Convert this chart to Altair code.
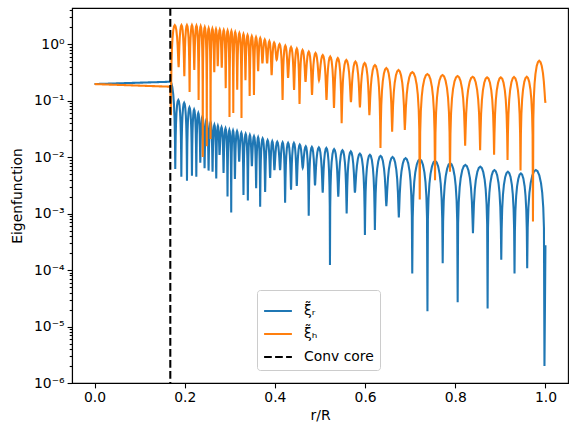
import numpy as np
import pandas as pd
import altair as alt

# ---------------- data (x = r/R, values as log10) ----------------
core_x = 0.168

blue_core_x = [0.0, 0.168]
blue_core_log = [-0.708, -0.667]
orange_core_x = [0.0, 0.168]
orange_core_log = [-0.708, -0.755]

blue_trough_x = [0.179, 0.1925, 0.205, 0.216, 0.2257, 0.2345, 0.244, 0.2529, 0.2617, 0.2699,
                 0.2772, 0.2861, 0.2949, 0.3031, 0.3113, 0.3208, 0.3303, 0.34, 0.3489, 0.3584,
                 0.3673, 0.3783, 0.3894, 0.3989, 0.4115, 0.4226, 0.4358, 0.4485, 0.4617, 0.475,
                 0.4889, 0.506, 0.5221, 0.5405, 0.5591, 0.5774, 0.5996, 0.6217, 0.6471, 0.6748,
                 0.7046, 0.7383, 0.7721, 0.8053, 0.8392, 0.8717, 0.902, 0.9314, 0.9595, 0.9978]
blue_trough_log = [-2.21, -2.35, -2.42, -2.33, -2.35, -2.10, -2.20, -2.24, -2.26, -2.38,
                   -1.96, -2.28, -2.70, -2.98, -2.39, -2.08, -2.67, -2.77, -2.16, -2.55,
                   -2.88, -2.62, -2.37, -2.23, -2.23, -2.81, -2.58, -2.51, -2.19, -3.04,
                   -2.50, -2.63, -3.91, -2.70, -3.00, -2.63, -3.38, -3.29, -2.87, -3.07,
                   -4.06, -4.73, -3.88, -4.57, -3.35, -4.68, -3.82, -4.06, -3.97, -5.70]
blue_peak_log = [-0.99, -1.04, -1.12, -1.16, -1.22, -1.28, -1.33, -1.38, -1.43, -1.45,
                 -1.47, -1.49, -1.52, -1.53, -1.54, -1.57, -1.59, -1.61, -1.63, -1.65,
                 -1.67, -1.70, -1.72, -1.73, -1.74, -1.75, -1.75, -1.78, -1.81, -1.82,
                 -1.83, -1.84, -1.86, -1.88, -1.90, -1.94, -1.96, -1.98, -2.00, -2.02,
                 -2.04, -2.07, -2.11, -2.14, -2.17, -2.23, -2.26, -2.29, -2.23]
blue_end_x, blue_end_log = 1.0, -3.56

orange_trough_x = [0.1695,
                   0.1865, 0.1991, 0.2108, 0.2212, 0.2308, 0.2400, 0.2489, 0.2573, 0.2655, 0.2732,
                   0.2821, 0.2909, 0.2993, 0.3077, 0.3164, 0.3259, 0.3347, 0.3440, 0.3535, 0.3628,
                   0.3723, 0.3827, 0.3927, 0.4038, 0.4170, 0.4292, 0.4425, 0.4546, 0.4679, 0.4823,
                   0.4978, 0.5144, 0.5310, 0.5480, 0.5686, 0.5885, 0.6095, 0.6341, 0.6600, 0.6881,
                   0.7212, 0.7551, 0.7883, 0.8219, 0.8551, 0.8861, 0.9159, 0.9447, 0.9723]
orange_trough_log = [-1.26,
                     -0.41, -0.57, -0.85, -0.46, -0.99, -2.00, -1.81, -1.68, -0.50, -0.39,
                     -0.42, -0.78, -1.29, -1.22, -0.81, -1.31, -0.64, -0.92, -0.90, -0.48,
                     -0.34, -0.34, -0.55, -0.28, -0.99, -0.60, -0.81, -1.06, -0.67, -0.90,
                     -0.64, -0.99, -1.13, -1.40, -1.03, -1.12, -1.26, -1.84, -1.55, -1.52,
                     -2.75, -2.41, -2.26, -1.80, -1.88, -1.96, -2.05, -2.24, -3.14]
orange_peak_log = [0.336,
                   0.336, 0.336, 0.336, 0.327, 0.319, 0.301, 0.283, 0.274, 0.265, 0.257,
                   0.248, 0.239, 0.230, 0.212, 0.195, 0.177, 0.159, 0.142, 0.124, 0.106,
                   0.080, 0.053, 0.027, 0.0, -0.027, -0.053, -0.080, -0.106, -0.133, -0.159,
                   -0.195, -0.221, -0.248, -0.283, -0.310, -0.336, -0.372, -0.425, -0.460, -0.496,
                   -0.531, -0.549, -0.566, -0.579, -0.589, -0.589, -0.584, -0.579]
orange_last_peak_log = -0.296
orange_end_x, orange_end_log = 1.0, -1.04

label_r = "ξ̃ᵣ"
label_h = "ξ̃ₕ"
label_core = "Conv core"

# ---------------- build line table ----------------
T = [0.03, 0.07, 0.13, 0.2, 0.3, 0.4, 0.5, 0.6, 0.7, 0.8, 0.87, 0.93, 0.97]


def arch(xa, ya, xb, yb, p, tmin=0.0, tmax=1.0):
    A, B, P = 10 ** ya, 10 ** yb, 10 ** p
    out = []
    for t in T:
        if t < tmin or t > tmax:
            continue
        fl = A if t < 0.5 else B
        v = np.sqrt((P * np.sin(np.pi * t)) ** 2 + (fl * np.cos(np.pi * t)) ** 2)
        out.append((xa + t * (xb - xa), float(v)))
    return out


rows = []


def add(series, pts):
    for x, v in pts:
        rows.append({"x": x, "v": v, "series": series, "order": len(rows)})


# blue
pts = [(x, 10 ** l) for x, l in zip(blue_core_x, blue_core_log)]
x0 = blue_trough_x[0]
pts += arch(core_x - (x0 - core_x), blue_core_log[-1], x0, blue_trough_log[0], blue_core_log[-1], tmin=0.55)
for i in range(len(blue_peak_log)):
    pts.append((blue_trough_x[i], 10 ** blue_trough_log[i]))
    pts += arch(blue_trough_x[i], blue_trough_log[i], blue_trough_x[i + 1], blue_trough_log[i + 1], blue_peak_log[i])
pts.append((blue_trough_x[-1], 10 ** blue_trough_log[-1]))
pts.append((blue_end_x, 10 ** blue_end_log))
add(label_r, pts)

# orange
pts = [(x, 10 ** l) for x, l in zip(orange_core_x, orange_core_log)]
for i in range(len(orange_peak_log)):
    pts.append((orange_trough_x[i], 10 ** orange_trough_log[i]))
    pts += arch(orange_trough_x[i], orange_trough_log[i], orange_trough_x[i + 1], orange_trough_log[i + 1], orange_peak_log[i])
pts.append((orange_trough_x[-1], 10 ** orange_trough_log[-1]))
pts += arch(orange_trough_x[-1], orange_trough_log[-1], orange_end_x, orange_end_log, orange_last_peak_log)
pts.append((orange_end_x, 10 ** orange_end_log))
add(label_h, pts)

df = pd.DataFrame(rows)
core_df = pd.DataFrame({"x": [core_x], "series": [label_core]})

# ---------------- chart ----------------
FONT = "DejaVu Sans"
FS = 13.9
LW = 2.08
domain = [label_r, label_h, label_core]
color_scale = alt.Scale(domain=domain, range=["#1f77b4", "#ff7f0e", "#000000"])
dash_scale = alt.Scale(domain=domain, range=[[1, 0], [1, 0], [7.7, 3.3]])

legend = alt.Legend(
    title=None, orient="none", legendX=185, legendY=282,
    symbolType="stroke", symbolSize=773, symbolStrokeWidth=LW,
    labelFont=FONT, labelFontSize=FS, labelColor="black",
    fillColor="rgba(255,255,255,0.85)", strokeColor="#cccccc",
    cornerRadius=3, padding=6, rowPadding=1, labelOffset=11,
)

major_test = "abs(log(datum.value)/LN10 - round(log(datum.value)/LN10)) < 0.001"
y_values = []
for k in range(-6, 1):
    for m in range(1, 10):
        val = m * 10.0 ** k
        if val <= 4.35:
            y_values.append(val)

x_axis = alt.Axis(
    values=[0.0, 0.2, 0.4, 0.6, 0.8, 1.0], format=".1f", title="r/R",
    grid=False, tickSize=4.9, labelPadding=3, titlePadding=4,
)
y_axis = alt.Axis(
    values=y_values, title="Eigenfunction", grid=False, labelOverlap=False,
    labelExpr=major_test + " ? ['10⁰','10⁻¹','10⁻²','10⁻³','10⁻⁴','10⁻⁵','10⁻⁶'][-round(log(datum.value)/LN10)] : ''",
    tickSize={"condition": {"test": major_test, "value": 4.9}, "value": 2.8},
    labelPadding=3, titlePadding=9,
)

x_scale = alt.Scale(domain=[-0.05, 1.05], nice=False, zero=False)
y_scale = alt.Scale(type="log", domain=[1e-6, 4.35], nice=False)

lines = alt.Chart(df).mark_line(strokeWidth=LW, clip=True).encode(
    x=alt.X("x:Q", scale=x_scale, axis=x_axis),
    y=alt.Y("v:Q", scale=y_scale, axis=y_axis),
    color=alt.Color("series:N", scale=color_scale, legend=legend),
    strokeDash=alt.StrokeDash("series:N", scale=dash_scale, legend=legend),
    order="order:Q",
)

rule = alt.Chart(core_df).mark_rule(strokeWidth=LW).encode(
    x=alt.X("x:Q", scale=x_scale),
    color=alt.Color("series:N", scale=color_scale, legend=legend),
    strokeDash=alt.StrokeDash("series:N", scale=dash_scale, legend=legend),
)

chart = alt.layer(lines, rule).properties(
    width=496, height=375,
    autosize=alt.AutoSizeParams(type="none"),
    padding={"left": 72, "top": 8, "right": 10, "bottom": 49},
).configure_view(
    stroke="black", strokeWidth=1.1,
).configure_axis(
    labelFont=FONT, labelFontSize=FS, labelColor="black",
    titleFont=FONT, titleFontSize=FS, titleFontWeight="normal", titleColor="black",
    domainColor="black", domainWidth=1.1, tickColor="black", tickWidth=1.1,
)

chart.save("out.html", embed_options={"renderer": "svg", "actions": False})
